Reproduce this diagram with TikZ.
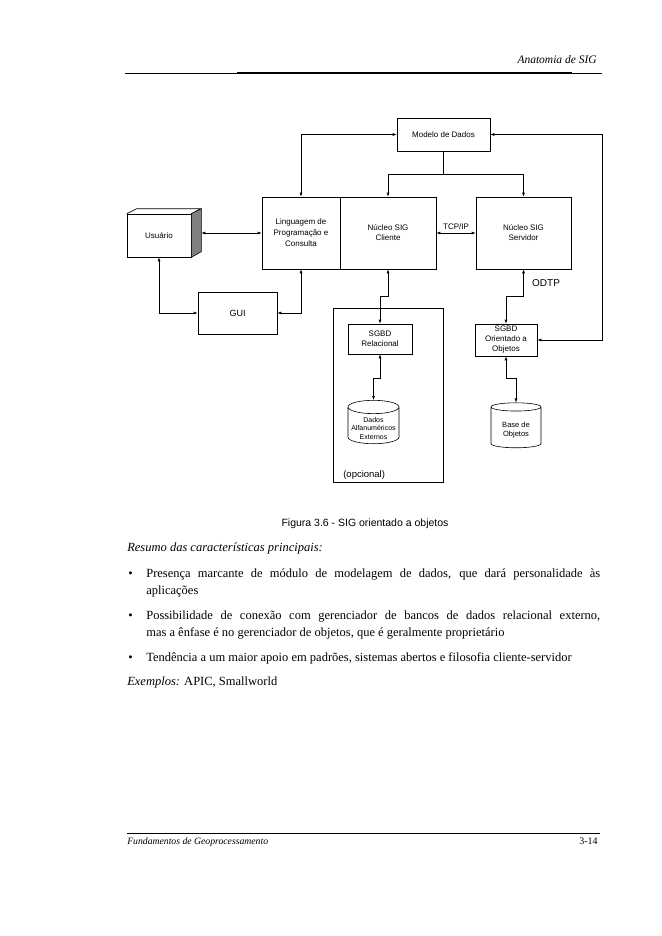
\documentclass[tikz,border=0pt]{standalone}
\usepackage{fontspec}
\setmainfont{Liberation Serif}
\setsansfont{Liberation Sans}
\usetikzlibrary{arrows.meta,shapes.geometric}

\begin{document}
\begin{tikzpicture}[x=1pt, y=-1pt, line width=0.6pt, >={Latex[length=4pt,width=3pt]},
	bloco/.style={draw, align=center, inner sep=1pt, font=\sffamily\fontsize{8}{10}\selectfont},
	banco/.style={draw, shape=cylinder, shape border rotate=90, aspect=0.3, align=center, inner sep=0pt, font=\sffamily\fontsize{7}{9}\selectfont},
	rotulo/.style={align=center, inner sep=0pt, font=\sffamily\fontsize{7}{8.5}\selectfont},
	corpo/.style={anchor=base west, inner sep=0pt, font=\fontsize{12.5}{17}\selectfont}]
	\useasboundingbox (0,0) rectangle (661,936);
	\node[anchor=base east, inner sep=0pt, font=\itshape\fontsize{11.5}{12}\selectfont] (cab) at (597,64) {Anatomia de SIG};
	\draw (125,73) -- (602,73);
	\draw[line width=2pt] (237,73) -- (572,73);
	\node[bloco, minimum width=93pt, minimum height=33pt] (modelo) at (443.5,134.5) {Modelo de Dados};
	\node[bloco, minimum width=78pt, minimum height=72pt, font=\sffamily\fontsize{8}{11}\selectfont] (ling) at (301,233) {Linguagem de\\Programação e\\Consulta};
	\node[bloco, minimum width=96pt, minimum height=72pt] (cliente) at (388,233) {Núcleo SIG\\Cliente};
	\node[bloco, minimum width=95pt, minimum height=72pt] (servidor) at (523.5,233) {Núcleo SIG\\Servidor};
	\node[bloco, minimum width=64pt, minimum height=43pt] (usuario) at (159,235.5) {Usuário};
	\draw (usuario.north west) -- ++(10,-5) -- ++(64,0) -- (usuario.north east);
	\draw[fill=gray] (usuario.north east) -- ++(10,-5) -- ++(0,43) -- (usuario.south east) -- cycle;
	\node[bloco, minimum width=79pt, minimum height=42pt, font=\sffamily\fontsize{9}{10}\selectfont] (gui) at (237.5,313) {GUI};
	\node[draw, minimum width=110pt, minimum height=174pt] (opcional) at (388,395) {};
	\node[anchor=base west, inner sep=0pt, font=\sffamily\fontsize{9.5}{11}\selectfont] (opctxt) at (343,477) {(opcional)};
	\node[bloco, minimum width=64pt, minimum height=30pt] (relac) at (380,339) {SGBD\\Relacional};
	\node[bloco, minimum width=62pt, minimum height=32pt] (sgbdoo) at (506,340) {SGBD\\Orientado a\\Objetos};
	\node[banco, minimum width=51pt, minimum height=41pt] (alfa) at (373.5,425.5) {\phantom{Dados}\\\phantom{Alfanuméricos}\\\phantom{Externos}};
	\node[rotulo] (alfatxt) at ([yshift=-2.5pt]alfa.center) {Dados\\Alfanuméricos\\Externos};
	\node[banco, minimum width=50pt, minimum height=45pt, font=\sffamily\fontsize{7.5}{9}\selectfont] (base) at (516,427.5) {\phantom{Base de}\\\phantom{Objetos}};
	\node[rotulo, font=\sffamily\fontsize{7.5}{9}\selectfont] (basetxt) at ([yshift=-3pt]base.center) {Base de\\Objetos};
	\coordinate (desvio) at (443.5,174);
	\draw (modelo) -- (desvio);
	\draw[->] (desvio) -| (cliente);
	\draw[->] (desvio) -| (servidor);
	\draw[<->] (modelo.west) -| (ling.north);
	\draw[<->] (sgbdoo.east) -- ++(65,0) |- (modelo.east);
	\draw[<->] ([shift={(10,-2.5)}]usuario.east) -- (ling.west);
	\draw[<->] (usuario.south) |- (gui.west);
	\draw[<->] (gui.east) -| (ling.south);
	\draw[<->] (cliente.east) -- node[above, font=\sffamily\fontsize{8}{10}\selectfont] {TCP/IP} (servidor.west);
	\draw[<->] (cliente.south) -- ++(0,27) -| (relac.north);
	\draw[<->] (relac.south) -- ++(0,24) -| (alfa.north);
	\draw[<->] (servidor.south) -- node[right, xshift=5pt, font=\sffamily\fontsize{10}{11}\selectfont] {ODTP} ++(0,27) -| (sgbdoo.north);
	\draw[<->] (sgbdoo.south) -- ++(0,22) -| (base.north);
	\node[anchor=base, font=\sffamily\fontsize{10.5}{12}\selectfont] (legenda) at (365,526) {Figura 3.6 - SIG orientado a objetos};
	\node[corpo] (resumo) at (127,551) {\textit{Resumo das características principais:}};
	\node[corpo] (m1) at (128,577) {\textbullet};
	\node[corpo, text width=454pt, align=justify] (t1) at (146,577) {Presença marcante de módulo de modelagem de dados, que dará personalidade às\linebreak aplicações};
	\node[corpo] (m2) at (128,619) {\textbullet};
	\node[corpo, text width=454pt, align=justify] (t2) at (146,619) {Possibilidade de conexão com gerenciador de bancos de dados relacional externo,\linebreak mas a ênfase é no gerenciador de objetos, que é geralmente proprietário};
	\node[corpo] (m3) at (128,661) {\textbullet};
	\node[corpo] (t3) at (146,661) {Tendência a um maior apoio em padrões, sistemas abertos e filosofia cliente-servidor};
	\node[corpo] (exemplos) at (127,685) {\textit{Exemplos:} APIC, Smallworld};
	\draw (127,833) -- (600,833);
	\node[anchor=base west, inner sep=0pt, font=\itshape\fontsize{9.7}{11}\selectfont] (rodape) at (127,844) {Fundamentos de Geoprocessamento};
	\node[anchor=base east, inner sep=0pt, font=\fontsize{10}{11}\selectfont] (pagina) at (598,844) {3-14};
\end{tikzpicture}
\end{document}
